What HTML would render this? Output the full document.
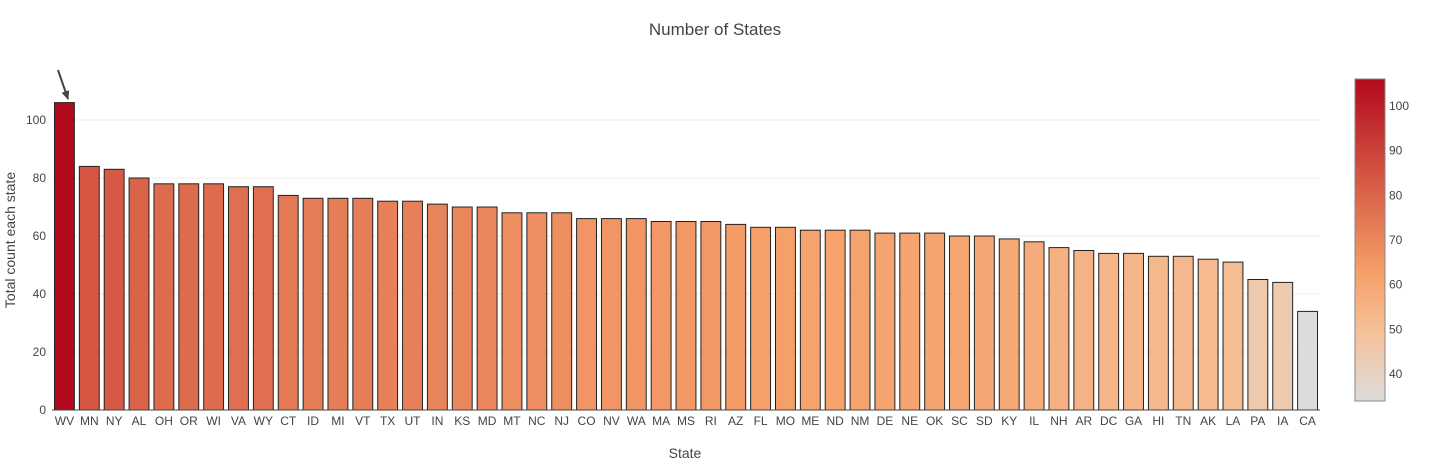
<!DOCTYPE html>
<html><head><meta charset="utf-8"><style>
body{margin:0;background:#fff;font-family:"Liberation Sans",sans-serif}
svg text{font-family:"Liberation Sans",sans-serif;fill:#444}
</style></head><body>
<svg id="c" width="1431" height="461">
<defs><linearGradient id="g" x1="0" y1="1" x2="0" y2="0">
<stop offset="0" stop-color="rgb(220,220,220)"/><stop offset="0.2" stop-color="rgb(245,195,157)"/>
<stop offset="0.4" stop-color="rgb(245,160,105)"/><stop offset="1" stop-color="rgb(178,10,28)"/></linearGradient>
<marker id="ah" markerUnits="userSpaceOnUse" markerWidth="10" markerHeight="10" refX="8" refY="5" orient="auto"><path d="M0,1 L9,5 L0,9 z" fill="#444"/></marker></defs>
<text x="715" y="35" text-anchor="middle" font-size="17">Number of States</text>
<text x="685" y="458" text-anchor="middle" font-size="14">State</text>
<text transform="translate(15,240) rotate(-90)" text-anchor="middle" font-size="14">Total count each state</text>
<g id="grid"></g><g id="bars"></g><g id="xl"></g>
<rect x="1355" y="79" width="30" height="322" fill="url(#g)" stroke="#888" stroke-width="1"/>
<g id="cb"></g>
<line x1="58" y1="70" x2="68" y2="99" stroke="#444" stroke-width="2" marker-end="url(#ah)"/>
</svg>
<script>
const states=["WV","MN","NY","AL","OH","OR","WI","VA","WY","CT","ID","MI","VT","TX","UT","IN","KS","MD","MT","NC","NJ","CO","NV","WA","MA","MS","RI","AZ","FL","MO","ME","ND","NM","DE","NE","OK","SC","SD","KY","IL","NH","AR","DC","GA","HI","TN","AK","LA","PA","IA","CA"];
const counts=[106,84,83,80,78,78,78,77,77,74,73,73,73,72,72,71,70,70,68,68,68,66,66,66,65,65,65,64,63,63,62,62,62,61,61,61,60,60,59,58,56,55,54,54,53,53,52,51,45,44,34];
const yTicks=[0,20,40,60,80,100];
const cbTicks=[40,50,60,70,80,90,100];
const NS="http://www.w3.org/2000/svg";
const x0=52,x1=1320,yb=410,yt=120;
const y=v=>yb-(v/100)*(yb-yt);
const bw=(x1-x0)/states.length;
const cmin=Math.min(...counts),cmax=Math.max(...counts);
const stops=[[0,[220,220,220]],[0.2,[245,195,157]],[0.4,[245,160,105]],[1,[178,10,28]]];
function col(v){let t=(v-cmin)/(cmax-cmin);for(let i=1;i<stops.length;i++){if(t<=stops[i][0]){const a=stops[i-1],b=stops[i],f=(t-a[0])/(b[0]-a[0]);return `rgb(${a[1].map((c,k)=>Math.round(c+(b[1][k]-c)*f)).join(",")})`;}}return "rgb(178,10,28)";}
function mk(tag,at,p){const e=document.createElementNS(NS,tag);for(const k in at)e.setAttribute(k,at[k]);document.getElementById(p).appendChild(e);return e;}
yTicks.forEach(v=>{
 if(v>0){const l=mk("line",{x1:x0,x2:x1,y1:y(v),y2:y(v),stroke:"#eee"},"grid");
 
 }
 const t=mk("text",{x:46,y:y(v)+4,"text-anchor":"end","font-size":12},"grid");t.textContent=v;
 
 
});
states.forEach((s,i)=>{
 const cx=x0+bw*(i+0.5),w=bw*0.8;
 const r=mk("rect",{x:cx-w/2,y:y(counts[i]),width:w,height:yb-y(counts[i]),fill:col(counts[i]),stroke:"#222","stroke-width":1},"bars");
 
 
 const t=mk("text",{x:cx,y:425,"text-anchor":"middle","font-size":12},"xl");t.textContent=s;
 
 
});
const ax=mk("line",{x1:x0,x2:x1,y1:yb,y2:yb,stroke:"#444"},"xl");


const cy=v=>401-(v-cmin)/(cmax-cmin)*322;
cbTicks.forEach(v=>{
 const t=mk("text",{x:1389,y:cy(v)+4,"font-size":12},"cb");t.textContent=v;
 
 
});
</script>
</body></html>
